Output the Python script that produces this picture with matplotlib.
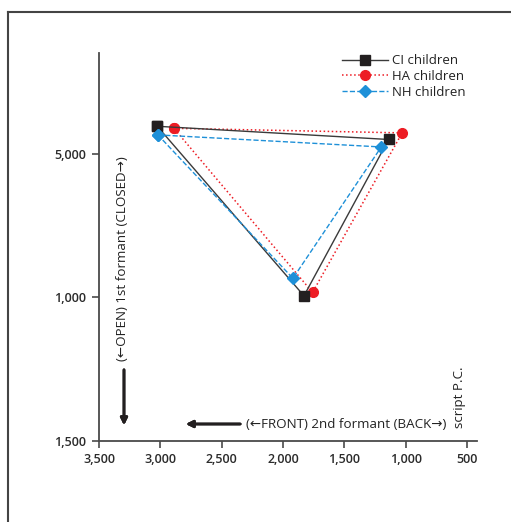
import matplotlib.pyplot as plt
from matplotlib.lines import Line2D
from matplotlib.ticker import FixedLocator, FixedFormatter

plt.rcParams['font.family'] = ['Open Sans', 'DejaVu Sans']

# formant values (F2, F1) for the three corner vowels, triangle closed back to start
ci_f2 = [3025, 1140, 1830, 3025]
ci_f1 = [405, 451, 995, 405]
ha_f2 = [2890, 1030, 1760, 2890]
ha_f1 = [412, 428, 983, 412]
nh_f2 = [3020, 1200, 1920, 3020]
nh_f1 = [435, 477, 934, 435]

x_ticks = [3500, 3000, 2500, 2000, 1500, 1000, 500]
x_labels = ['3,500', '3,000', '2,500', '2,000', '1,500', '1,000', '500']
y_ticks = [500, 1000, 1500]
y_labels = ['5,000', '1,000', '1,500']

fig = plt.figure(figsize=(5.11, 5.22), dpi=100)
ax = fig.add_axes([0.1937, 0.1552, 0.7398, 0.7433])

ax.plot(ci_f2, ci_f1, '-', color='#3a3a3a', lw=1.0, marker='s', ms=7,
        mfc='#231f20', mec='#231f20', label='CI children', zorder=3)
ax.plot(ha_f2, ha_f1, ':', color='#ed1c24', lw=1.1, marker='o', ms=7,
        mfc='#ed1c24', mec='#ed1c24', label='HA children', zorder=2)
ax.plot(nh_f2, nh_f1, '--', color='#1e90d8', lw=1.0, marker='D', ms=6.5,
        mfc='#1e90d8', mec='#1e90d8', label='NH children', zorder=4)

ax.set_xlim(3500, 420)
ax.set_ylim(1500, 150)

ax.xaxis.set_major_locator(FixedLocator(x_ticks))
ax.xaxis.set_major_formatter(FixedFormatter(x_labels))
ax.yaxis.set_major_locator(FixedLocator(y_ticks))
ax.yaxis.set_major_formatter(FixedFormatter(y_labels))

for s in ['top', 'right']:
    ax.spines[s].set_visible(False)
for s in ['left', 'bottom']:
    ax.spines[s].set_color('#4a4a4a')
    ax.spines[s].set_linewidth(1.3)
ax.tick_params(length=5, width=1.2, color='#4a4a4a', labelsize=9,
               labelcolor='#2b2b2b', pad=4)
for lab in ax.get_xticklabels() + ax.get_yticklabels():
    lab.set_fontweight('semibold')

leg = ax.legend(loc='upper right', frameon=False,
                prop={'size': 9.5, 'weight': 'medium'}, handlelength=3.5,
                handletextpad=0.3, labelspacing=0.2, borderaxespad=0.2,
                bbox_to_anchor=(0.99, 1.017))
for t in leg.get_texts():
    t.set_color('#222222')

# axis captions with arrows, placed inside the plot area
fig.text(123 / 511, 1 - 259 / 522, '(\u2190OPEN) 1st formant (CLOSED\u2192)',
         rotation=90, ha='center', va='center', fontsize=9.6,
         fontweight='medium', color='#222222')
fig.text(346 / 511, 1 - 424 / 522, '(\u2190FRONT) 2nd formant (BACK\u2192)',
         ha='center', va='center', fontsize=9.6, fontweight='medium',
         color='#222222')
fig.text(459 / 511, 1 - 397 / 522, 'script P.C.', rotation=90,
         ha='center', va='center', fontsize=9.6, fontweight='medium',
         color='#222222')

fig.add_artist(plt.annotate('', xy=(124 / 511, 1 - 428 / 522),
                            xytext=(124 / 511, 1 - 367 / 522),
                            xycoords='figure fraction',
                            arrowprops=dict(arrowstyle='-|>', color='#231f20',
                                            lw=2.0, mutation_scale=10)))
fig.add_artist(plt.annotate('', xy=(183 / 511, 1 - 424 / 522),
                            xytext=(243 / 511, 1 - 424 / 522),
                            xycoords='figure fraction',
                            arrowprops=dict(arrowstyle='-|>', color='#231f20',
                                            lw=2.0, mutation_scale=10)))

# outer frame of the figure panel
fig.add_artist(Line2D([8 / 511, 1.0], [1 - 12 / 522, 1 - 12 / 522],
                      color='#444444', lw=1.5))
fig.add_artist(Line2D([8 / 511, 8 / 511], [0.0, 1 - 12 / 522],
                      color='#444444', lw=1.5))

fig.savefig('out.png', dpi=100)
